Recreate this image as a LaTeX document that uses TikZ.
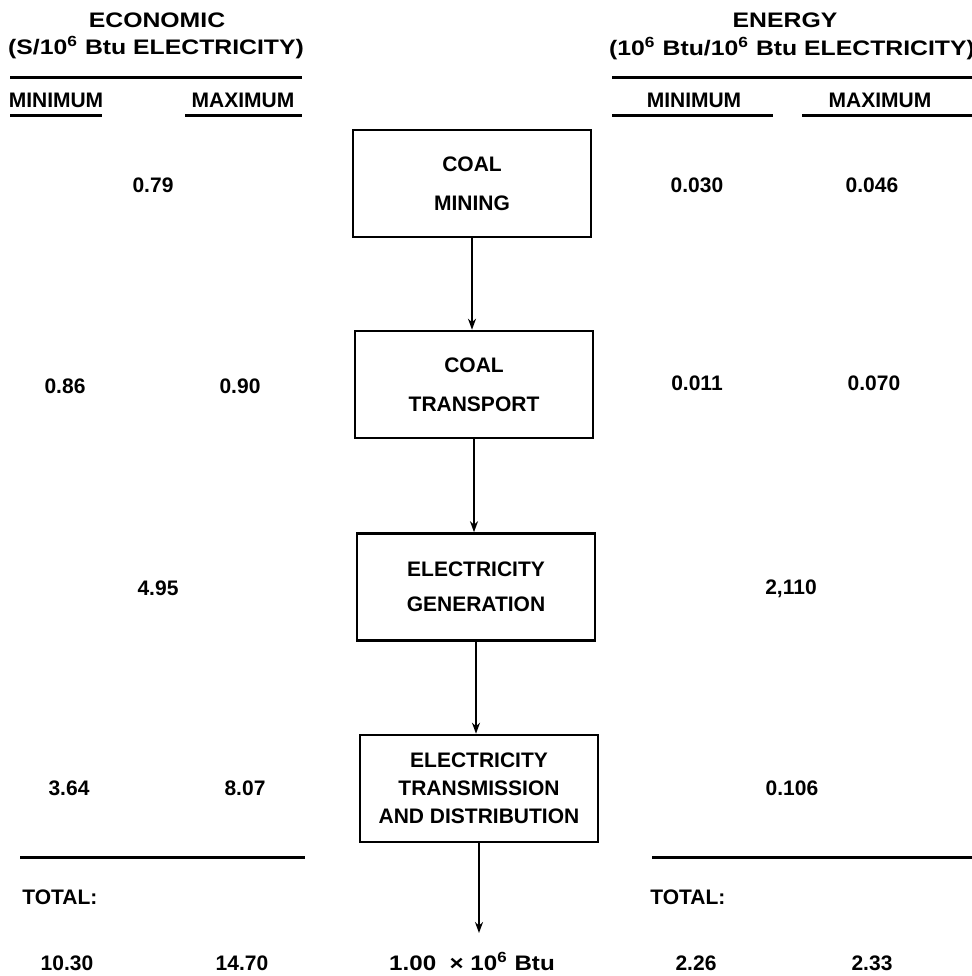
\documentclass[tikz,border=0pt]{standalone}
\usepackage{fontspec}
\setmainfont{Liberation Sans}
\usetikzlibrary{arrows.meta}

\begin{document}
\begin{tikzpicture}[x=0.5pt, y=-0.5pt,
    every node/.append style={font=\bfseries\fontsize{10.5}{13}\selectfont, inner sep=0pt, text height=7.5pt, text depth=0pt},
    stage/.style={draw, line width=1.3pt, minimum width=119pt, minimum height=53.5pt, align=center, text height=, text depth=},
    rule/.style={line width=1.5pt},
    flow/.style={line width=1pt, -{Stealth[length=5.5pt, width=4pt]}}]
    \useasboundingbox (0,0) rectangle (972,976);
    % headings
    \node (ecoT) at (157,20) {\scalebox{1.18}[1]{ECONOMIC}};
    \node (ecoU) at (156,47) {\scalebox{1.18}[1]{(S/10\textsuperscript{6} Btu ELECTRICITY)}};
    \node (engT) at (785,20) {\scalebox{1.18}[1]{ENERGY}};
    \node (engU) at (792,48) {\scalebox{1.18}[1]{(10\textsuperscript{6} Btu/10\textsuperscript{6} Btu ELECTRICITY)}};
    \draw[rule] (10,77) -- (302,77) (612,77) -- (972,77);
    \node (ecoMin) at (56,100) {MINIMUM};
    \node (ecoMax) at (243,100) {MAXIMUM};
    \node (engMin) at (694,100) {MINIMUM};
    \node (engMax) at (880,100) {MAXIMUM};
    \draw[rule] (10,115) -- (102,115) (185,115) -- (302,115);
    \draw[rule] (612,115) -- (773,115) (802,115) -- (972,115);
    % chain
    \node[stage] (mining) at (472,183.5) {COAL\\[6.5pt]MINING};
    \node[stage] (transport) at (474,384.5) {COAL\\[6.5pt]TRANSPORT};
    \node[stage] (generation) at (476,587) {ELECTRICITY\\[4.5pt]GENERATION};
    \node[stage] (distribution) at (479,788.5) {ELECTRICITY\\[1pt]TRANSMISSION\\[1pt]AND DISTRIBUTION};
    \coordinate (output) at (479,933);
    \draw[flow] (mining.south) -- (mining.south |- transport.north);
    \draw[flow] (transport.south) -- (transport.south |- generation.north);
    \draw[flow] (generation.south) -- (generation.south |- distribution.north);
    \draw[flow] (distribution.south) -- (output);
    % values
    \node (ecoMining) at (153,185) {0.79};
    \node (engMiningMin) at (697,185) {0.030};
    \node (engMiningMax) at (872,185) {0.046};
    \node (ecoTransportMin) at (65,386) {0.86};
    \node (ecoTransportMax) at (240,386) {0.90};
    \node (engTransportMin) at (697,383) {0.011};
    \node (engTransportMax) at (874,383) {0.070};
    \node (ecoGeneration) at (158,588) {4.95};
    \node (engGeneration) at (791,587) {2,110};
    \node (ecoDistMin) at (69,788) {3.64};
    \node (ecoDistMax) at (245,788) {8.07};
    \node (engDist) at (792,788) {0.106};
    % totals
    \draw[rule] (20,857) -- (305,857) (652,857) -- (972,857);
    \node[anchor=west] (ecoTotal) at (22,897) {TOTAL:};
    \node[anchor=west] (engTotal) at (650,897) {TOTAL:};
    \node (ecoSumMin) at (67,963) {10.30};
    \node (ecoSumMax) at (242,963) {14.70};
    \node (outLabel) at (472,963) {\scalebox{1.15}[1]{1.00~~× 10\textsuperscript{6} Btu}};
    \node (engSumMin) at (696,963) {2.26};
    \node (engSumMax) at (872,963) {2.33};
\end{tikzpicture}
\end{document}
